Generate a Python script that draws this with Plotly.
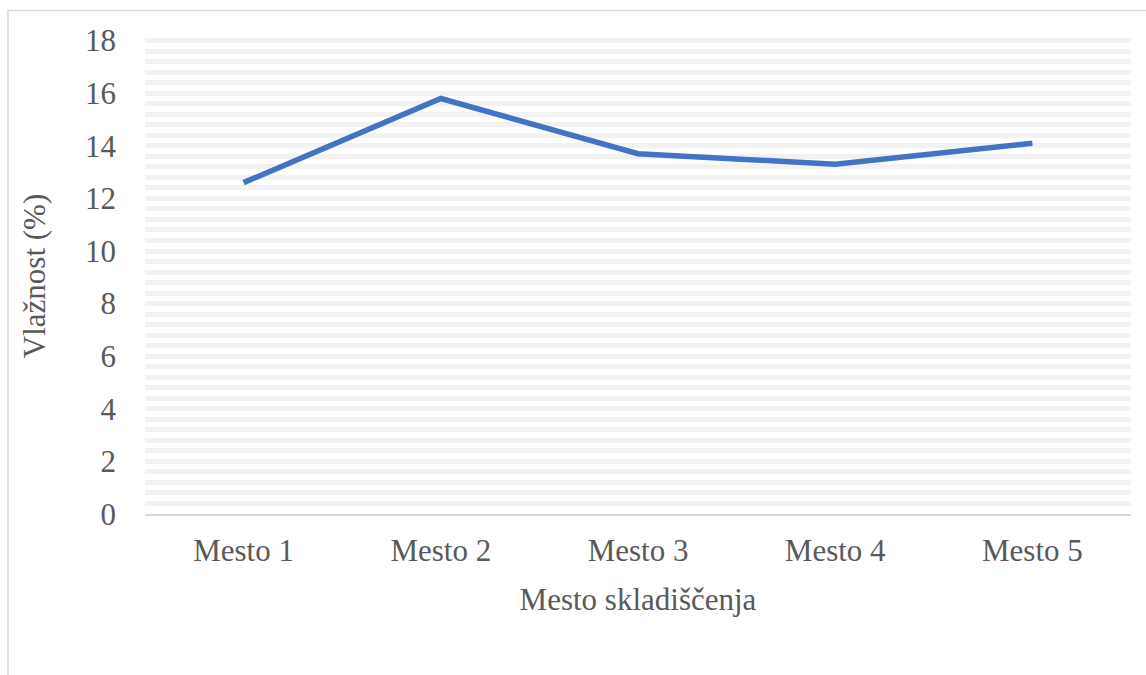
import plotly.graph_objects as go

categories = ["Mesto 1", "Mesto 2", "Mesto 3", "Mesto 4", "Mesto 5"]
humidity = [12.6, 15.8, 13.7, 13.3, 14.1]
y_ticks = [0, 2, 4, 6, 8, 10, 12, 14, 16, 18]

W, H = 1146, 675
L, R, T, B = 145, 15, 38.4, 161
pw, ph = W - L - R, H - T - B

font = dict(family="Liberation Serif, Times New Roman, serif", size=31, color="#595959")

fig = go.Figure()
fig.add_trace(go.Scatter(
    x=categories, y=humidity, mode="lines",
    line=dict(color="#4472C4", width=5.5),
    showlegend=False, hoverinfo="skip",
))

fig.update_layout(
    width=W, height=H,
    margin=dict(l=L, r=R, t=T, b=B, pad=0, autoexpand=False),
    paper_bgcolor="white", plot_bgcolor="white",
    font=font,
    xaxis=dict(
        title=dict(text="Mesto skladiščenja", font=font, standoff=21),
        range=[-0.5, 4.5], automargin=False,
        showgrid=False, zeroline=False,
        showline=True, linecolor="#d9d9d9", linewidth=1.5,
        ticks="", ticklabelstandoff=8,
        tickfont=font,
    ),
    yaxis=dict(
        title=dict(text="Vlažnost (%)", font=font, standoff=30),
        range=[0, 18.1], automargin=False,
        tickvals=y_ticks, ticktext=[str(v) for v in y_ticks],
        showgrid=True, gridcolor="#f2f2f2", gridwidth=4.5,
        minor=dict(dtick=0.4, showgrid=True, gridcolor="#f2f2f2", gridwidth=4.5),
        zeroline=False, showline=False,
        ticks="", ticklabelstandoff=28,
        tickfont=font,
    ),
    shapes=[dict(
        type="rect", xref="paper", yref="paper",
        x0=(8 - L) / pw, x1=(W + 10 - L) / pw,
        y0=-(H + 10 - T - ph) / ph, y1=(ph + T - 11) / ph,
        line=dict(color="#d9d9d9", width=1.5), fillcolor="rgba(0,0,0,0)",
        layer="below",
    )],
)

fig.write_html("out.html")
